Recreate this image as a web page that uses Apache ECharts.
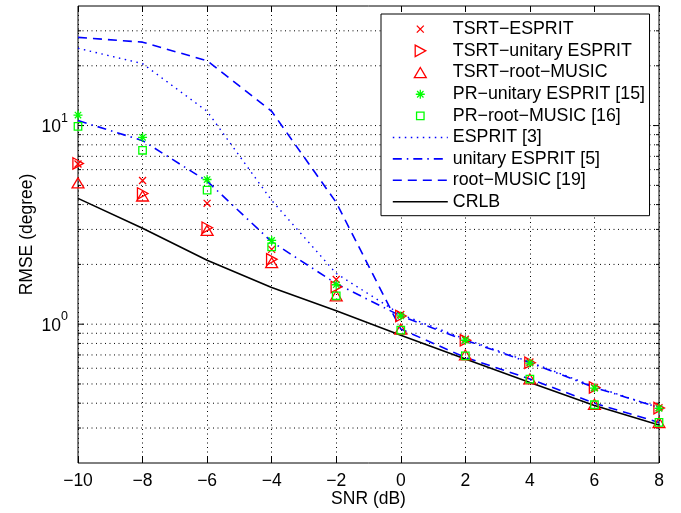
<!DOCTYPE html>
<html><head><meta charset="utf-8">
<script src="https://cdn.jsdelivr.net/npm/echarts@6/dist/echarts.min.js"></script>
<style>html,body{margin:0;padding:0;background:#fff}#c{width:681px;height:513px}</style>
</head><body><div id="c"></div>
<script>
// ---- data ----
const snr = [-10, -8, -6, -4, -2, 0, 2, 4, 6, 8];
const tsrtEsprit    = [6.4, 5.29, 4.06, 2.38, 1.68, 1.12, 0.84, 0.645, 0.48, 0.38];
const tsrtUnitary   = [6.45, 4.55, 3.06, 2.12, 1.54, 1.10, 0.83, 0.64, 0.48, 0.378];
const tsrtRootMusic = [5.15, 4.42, 2.97, 2.04, 1.39, 0.945, 0.70, 0.53, 0.395, 0.32];
const prUnitary     = [11.3, 8.73, 5.35, 2.64, 1.58, 1.10, 0.83, 0.637, 0.477, 0.377];
const prRootMusic   = [9.9, 7.51, 4.73, 2.45, 1.39, 0.933, 0.693, 0.529, 0.393, 0.32];
const esprit        = [24.5, 20.5, 11.8, 4.2, 1.8, 1.12, 0.84, 0.645, 0.485, 0.38];
const unitaryEsprit = [10.6, 8.4, 5.25, 2.6, 1.6, 1.1, 0.83, 0.64, 0.48, 0.38];
const rootMusic     = [27.8, 26.3, 21.2, 11.8, 4.1, 0.945, 0.68, 0.53, 0.40, 0.32];
const crlb          = [4.30, 3.04, 2.10, 1.53, 1.17, 0.88, 0.667, 0.509, 0.39, 0.311];
const seriesNames = ['TSRT−ESPRIT', 'TSRT−unitary ESPRIT', 'TSRT−root−MUSIC',
  'PR−unitary ESPRIT [15]', 'PR−root−MUSIC [16]', 'ESPRIT [3]', 'unitary ESPRIT [5]',
  'root−MUSIC [19]', 'CRLB'];
const yGridValues = [0.2, 0.3, 0.4, 0.5, 0.6, 0.7, 0.8, 0.9, 1, 2, 3, 4, 5, 6, 7, 8, 9, 10, 20, 30, 40];
const xLabel = 'SNR (dB)';
const yLabel = 'RMSE (degree)';

// ---- styles ----
const FONT = "'Liberation Sans', Arial, Helvetica, sans-serif";
const FS = 17.5;
const RED = '#ff0000', GREEN = '#00ff00', BLUE = '#0000ff';
const BOX = 'M0,0M20,20';
const SYM = {
  cross: 'path://' + BOX + 'M5.9,5.9L14.1,14.1M14.1,5.9L5.9,14.1',
  right: 'path://' + BOX + 'M4,3.3L16.4,10L4,16.7Z',
  up: 'path://' + BOX + 'M3,15.9L10,4.1L17,15.9Z',
  star: 'path://' + BOX + 'M10,4.7L10,15.3M4.7,10L15.3,10M6.25,6.25L13.75,13.75M13.75,6.25L6.25,13.75',
  square: 'path://' + BOX + 'M5.6,5.6L14.4,5.6L14.4,14.4L5.6,14.4Z'
};
const DOT = [1.5, 4.5], DASHDOT = [9, 5, 1.5, 5], DASH = [9, 6];
const CLEAR = 'rgba(255,255,255,0)';

function pairs(arr) { return snr.map((x, i) => [x, arr[i]]); }

function markerSeries(name, arr, sym, color) {
  return {
    name, type: 'line', data: pairs(arr), clip: false,
    symbol: sym, symbolSize: 17, showSymbol: true, showAllSymbol: true,
    itemStyle: { color: CLEAR, borderColor: color, borderWidth: 1.3 },
    lineStyle: { width: 0, opacity: 0 },
    emphasis: { disabled: true }, z: 4
  };
}
function lineSeries(name, arr, color, type, width) {
  return {
    name, type: 'line', data: pairs(arr), clip: false,
    symbol: 'circle', showSymbol: false, color,
    lineStyle: { color, width, type },
    emphasis: { disabled: true }, z: 3
  };
}

const markerDefs = [
  [tsrtEsprit, SYM.cross, RED],
  [tsrtUnitary, SYM.right, RED],
  [tsrtRootMusic, SYM.up, RED],
  [prUnitary, SYM.star, GREEN],
  [prRootMusic, SYM.square, GREEN]
];
const lineDefs = [
  [esprit, BLUE, DOT, 1.4],
  [unitaryEsprit, BLUE, DASHDOT, 1.6],
  [rootMusic, BLUE, DASH, 1.6],
  [crlb, '#000', 'solid', 1.6]
];

const series = [];
const legendData = [];
markerDefs.forEach((d, i) => {
  series.push(markerSeries(seriesNames[i], d[0], d[1], d[2]));
  legendData.push({ name: seriesNames[i], icon: d[1],
    itemStyle: { color: CLEAR, borderColor: d[2], borderWidth: 1.3, opacity: 1 } });
});
lineDefs.forEach((d, j) => {
  const name = seriesNames[5 + j];
  series.push(lineSeries(name, d[0], d[1], d[2], d[3]));
  legendData.push({ name, itemStyle: { opacity: 0 },
    lineStyle: { color: d[1], width: d[3], type: d[2], opacity: 1 } });
});

// horizontal log grid + inner ticks, positioned through the y scale
series.unshift({
  name: 'grid', type: 'custom', silent: true, z: 1, clip: false,
  data: yGridValues.map(v => [snr[0], v]),
  renderItem: (params, api) => {
    const v = api.value(1);
    const y = api.coord([api.value(0), v])[1];
    const cs = params.coordSys;
    const lg = Math.log10(v);
    const major = Math.abs(lg - Math.round(lg)) < 1e-6;
    const len = major ? 6 : 3;
    const children = [];
    const edge = Math.abs(y - cs.y) < 1 || Math.abs(y - (cs.y + cs.height)) < 1;
    if (!edge) {
      children.push({ type: 'line', shape: { x1: cs.x, y1: y, x2: cs.x + cs.width, y2: y },
        style: { stroke: '#000', lineWidth: 1, lineDash: [1, 3.5] } });
      children.push({ type: 'line', shape: { x1: cs.x, y1: y, x2: cs.x + len, y2: y },
        style: { stroke: '#000', lineWidth: 1 } });
      children.push({ type: 'line', shape: { x1: cs.x + cs.width - len, y1: y, x2: cs.x + cs.width, y2: y },
        style: { stroke: '#000', lineWidth: 1 } });
    }
    return { type: 'group', children };
  }
});

const chart = echarts.init(document.getElementById('c'), null, { renderer: 'canvas' });
chart.setOption({
  animation: false,
  backgroundColor: '#fff',
  textStyle: { fontFamily: FONT },
  grid: { left: 78, right: 22, top: 6, bottom: 50, show: true, borderColor: '#000', borderWidth: 1,
    containLabel: false, outerBoundsMode: 'none' },
  xAxis: [{
    type: 'value', min: -10, max: 8, interval: 2, position: 'bottom',
    name: xLabel, nameLocation: 'middle', nameGap: 27.5, nameMoveOverlap: false,
    nameTextStyle: { fontSize: FS, color: '#000', fontFamily: FONT },
    axisLine: { show: false },
    axisTick: { show: true, inside: true, length: 6, lineStyle: { color: '#000' } },
    axisLabel: { fontSize: FS, color: '#000', fontFamily: FONT, margin: 9.5,
      formatter: v => (v < 0 ? '−' + Math.abs(v) : String(v)) },
    splitLine: { show: true, lineStyle: { color: '#000', width: 1, type: [1, 3.5] } }
  }, {
    type: 'value', min: -10, max: 8, interval: 2, position: 'top',
    axisLine: { show: false },
    axisTick: { show: true, inside: true, length: 6, lineStyle: { color: '#000' } },
    axisLabel: { show: false }, splitLine: { show: false }
  }],
  yAxis: {
    type: 'log', logBase: 10, min: 0.2, max: 40,
    name: yLabel, nameLocation: 'middle', nameGap: 42, nameRotate: 90, nameMoveOverlap: false,
    nameTextStyle: { fontSize: FS, color: '#000', fontFamily: FONT },
    axisLine: { show: false }, axisTick: { show: false }, splitLine: { show: false },
    axisLabel: {
      margin: 10, color: '#000',
      formatter: v => {
        const lg = Math.log10(v);
        const e = Math.round(lg);
        if (Math.abs(lg - e) > 1e-6) return '';
        return '{b|10}{s|' + e + '}';
      },
      rich: {
        b: { fontSize: FS, fontFamily: FONT, color: '#000', padding: [4, 0, 0, 0] },
        s: { fontSize: 12.5, fontFamily: FONT, color: '#000', padding: [0, 0, 14.5, 0] }
      }
    }
  },
  legend: {
    orient: 'vertical', left: 381, top: 14, padding: [6, 4.5, 5, 11],
    itemWidth: 55, itemHeight: 17, itemGap: 3.4,
    backgroundColor: '#fff', borderColor: '#000', borderWidth: 1, borderRadius: 0,
    selectedMode: false, symbolKeepAspect: true,
    textStyle: { fontSize: 17.8, color: '#000', fontFamily: FONT },
    data: legendData
  },
  series
});
</script></body></html>
